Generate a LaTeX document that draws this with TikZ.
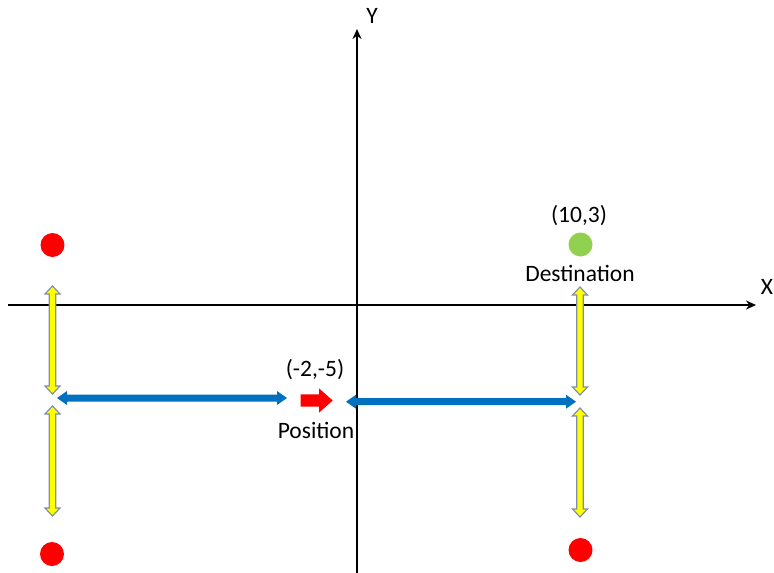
\documentclass[tikz,border=0pt]{standalone}
\usepackage{fontspec}
\setmainfont{Carlito}
\usetikzlibrary{arrows.meta}
\definecolor{yfill}{HTML}{FFFF00}
\definecolor{yline}{HTML}{7F8FA9}
\definecolor{bluearr}{HTML}{0070C0}
\definecolor{greendot}{HTML}{92D050}
\newcommand\vdarr[4]{% x, ytop, ybot, style
  \fill[#4] (#1,#2) -- (#1+7.5,#2+8) -- (#1+3.3,#2+8) -- (#1+3.3,#3-8) -- (#1+7.5,#3-8) -- (#1,#3)
    -- (#1-7.5,#3-8) -- (#1-3.3,#3-8) -- (#1-3.3,#2+8) -- (#1-7.5,#2+8) -- cycle;}
\newcommand\hdarr[4]{% xleft, xright, y, style
  \fill[#4] (#1,#3) -- (#1+10,#3-7) -- (#1+10,#3-3.5) -- (#2-10,#3-3.5) -- (#2-10,#3-7) -- (#2,#3)
    -- (#2-10,#3+7) -- (#2-10,#3+3.5) -- (#1+10,#3+3.5) -- (#1+10,#3+7) -- cycle;}
\begin{document}
\begin{tikzpicture}[x=1pt,y=-1pt,
  lbl/.style={font=\fontsize{23.5}{27}\selectfont, inner sep=0pt},
  dot/.style={circle, minimum size=24pt, inner sep=0pt},
  yarr/.style={fill=yfill, draw=yline, line width=1.2pt},
  barr/.style={fill=bluearr},
  axis/.style={line width=2.2pt, -{Stealth[length=10pt,width=9pt]}}]
\useasboundingbox (0,0) rectangle (774,573);
% axes
\coordinate (xs) at (8,305);
\coordinate (xe) at (756,305);
\coordinate (ys) at (357,573);
\coordinate (ye) at (357,29);
\draw[axis] (xs) -- (xe);
\draw[axis] (ys) -- (ye);
\node[lbl] (xlab) at (767,287) {X};
\node[lbl] (ylab) at (372,16) {Y};
% dots
\node[dot, fill=red] (r1) at (52.5,245) {};
\node[dot, fill=red] (r2) at (52,554) {};
\node[dot, fill=red] (r3) at (580.5,550) {};
\node[dot, fill=greendot] (g) at (580.5,244.5) {};
% labels
\node[lbl] (dest) at (579,216) {(10,3)};
\node[lbl] (destname) at (580,273) {Destination};
\node[lbl] (pos) at (315,370) {(-2,-5)};
\node[lbl] (posname) at (316,430) {Position};
% yellow double arrows
\vdarr{52.5}{286}{394}{yarr}
\vdarr{52.5}{406}{516}{yarr}
\vdarr{580}{287}{395}{yarr}
\vdarr{580}{408}{517}{yarr}
% blue double arrows
\hdarr{57}{287}{398}{barr}
\hdarr{346}{576}{401.7}{barr}
% red arrow
\fill[red] (300.7,394.3) -- (319,394.3) -- (319,388.3) -- (332.7,400.5) -- (319,412.7) -- (319,406.7) -- (300.7,406.7) -- cycle;
\end{tikzpicture}
\end{document}
